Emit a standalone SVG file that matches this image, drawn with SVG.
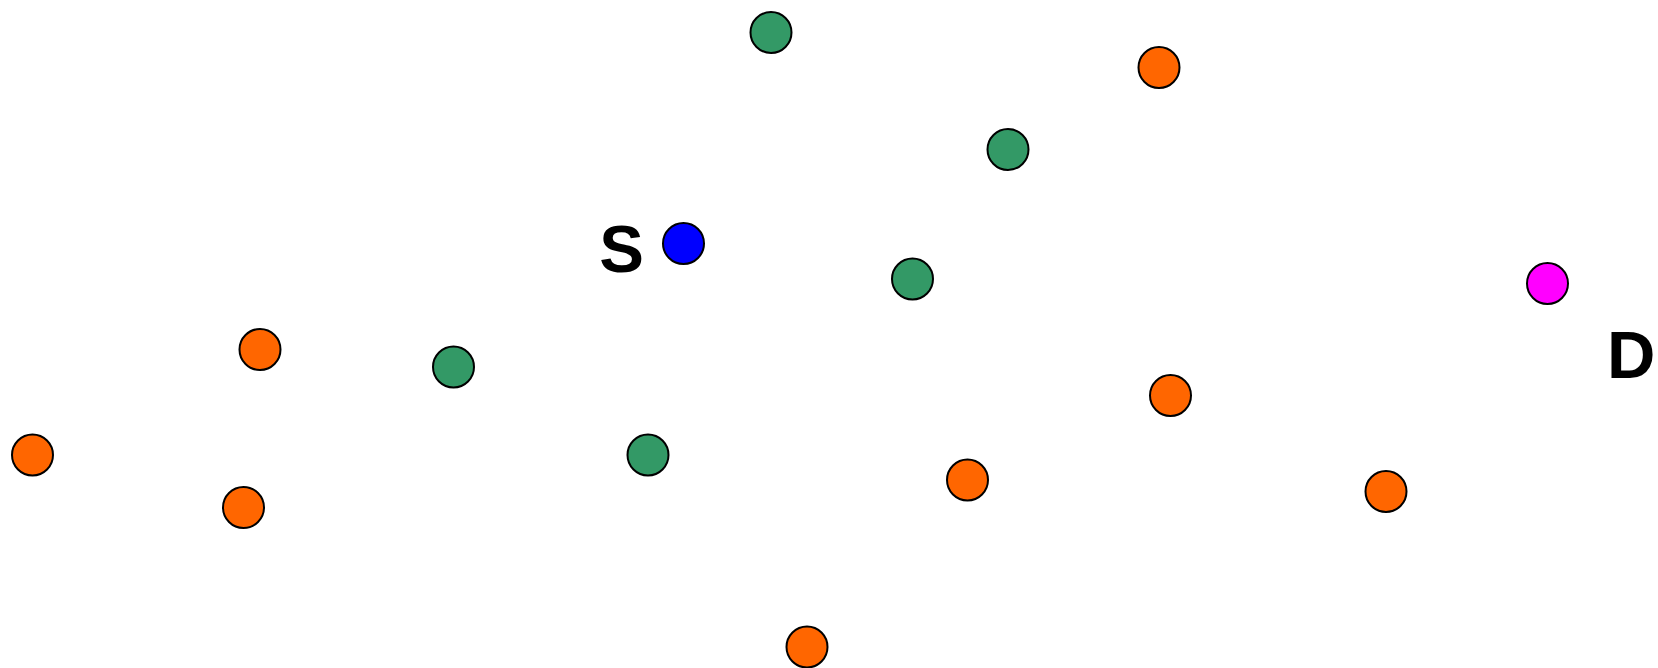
<svg xmlns="http://www.w3.org/2000/svg" width="1658" height="668" viewBox="0 0 1658 668">
<style>
circle{stroke:#000;stroke-width:2}
.g{fill:#339966}.o{fill:#FF6600}
text{font-family:"Liberation Sans",Arial,sans-serif;font-weight:bold;font-size:67px;fill:#000}
</style>
<rect width="1658" height="668" fill="#fff"/>
<g id="connectors"/>
<g id="S"><circle cx="683.5" cy="243.5" r="20.5" fill="#0000FF"/><text x="621.5" y="272" text-anchor="middle">S</text></g>
<g id="D"><circle cx="1547.5" cy="283.5" r="20.5" fill="#FF00FF"/><text x="1607" y="378">D</text></g>
<g id="g1"><circle class="g" cx="771" cy="32.5" r="20.5"/></g>
<g id="g2"><circle class="g" cx="1008" cy="149.5" r="20.5"/></g>
<g id="g3"><circle class="g" cx="912.5" cy="279" r="20.5"/></g>
<g id="g4"><circle class="g" cx="453.5" cy="367" r="20.5"/></g>
<g id="g5"><circle class="g" cx="648" cy="455" r="20.5"/></g>
<g id="o1"><circle class="o" cx="1159" cy="67.5" r="20.5"/></g>
<g id="o2"><circle class="o" cx="260" cy="349.5" r="20.5"/></g>
<g id="o3"><circle class="o" cx="32.5" cy="455" r="20.5"/></g>
<g id="o4"><circle class="o" cx="243.5" cy="507.5" r="20.5"/></g>
<g id="o5"><circle class="o" cx="967.5" cy="480" r="20.5"/></g>
<g id="o6"><circle class="o" cx="1170.5" cy="395.5" r="20.5"/></g>
<g id="o7"><circle class="o" cx="1386" cy="491.5" r="20.5"/></g>
<g id="o8"><circle class="o" cx="807" cy="647" r="20.5"/></g>
</svg>
